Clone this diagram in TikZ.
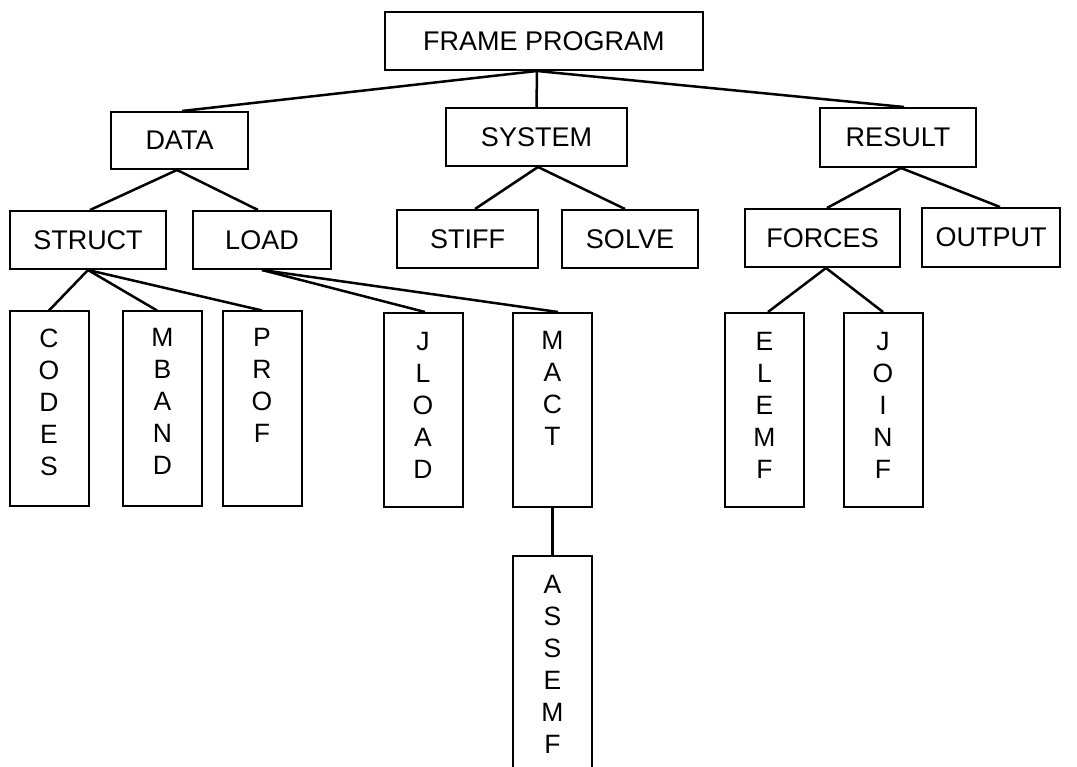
\documentclass[tikz,border=0pt]{standalone}
\usepackage{fontspec}
\setmainfont{Liberation Sans}
\begin{document}
\begin{tikzpicture}[x=1pt,y=-1pt,
  boxline/.style={draw=black, line width=2pt, inner sep=0pt},
  hnode/.style 2 args={boxline, minimum width=#1pt, minimum height=#2pt,
    font=\fontsize{27}{32}\selectfont},
  vnode/.style={boxline, minimum width=79pt, minimum height=194pt},
  vtext/.style={anchor=north, align=center, inner sep=0pt,
    font=\fontsize{26.5}{32}\selectfont},
  link/.style={draw=black, line width=2.5pt}]
\useasboundingbox (0,0) rectangle (1077,767);
\clip (0,0) rectangle (1077,767);

% top level
\node[hnode={318}{58}] (frame) at (544,41) {FRAME PROGRAM};

% second level
\node[hnode={137}{57}] (data)   at (179.5,140.5) {DATA};
\node[hnode={181}{58}] (system) at (536.5,137)   {SYSTEM};
\node[hnode={156}{59}] (result) at (898,137.5)   {RESULT};

% third level
\node[hnode={156}{58}] (struct) at (88,240)    {STRUCT};
\node[hnode={138}{58}] (load)   at (262,240)   {LOAD};
\node[hnode={141}{58}] (stiff)  at (467.5,239) {STIFF};
\node[hnode={136}{58}] (solve)  at (630,239)   {SOLVE};
\node[hnode={155}{58}] (forces) at (822.5,238) {FORCES};
\node[hnode={138}{59}] (output) at (991,237.5) {OUTPUT};

% fourth level: tall boxes with letters stacked top-down
\node[vnode] (codes) at (49,408.5)    {};
\node[vnode] (mband) at (162.5,408.5) {};
\node[vnode] (prof)  at (262,408.5)   {};
\node[vnode] (jload) at (423,410)     {};
\node[vnode] (mact)  at (552.5,410)   {};
\node[vnode] (elemf) at (764.5,410)   {};
\node[vnode] (joinf) at (883,410)     {};
\node[vnode, minimum height=260pt] (assemf) at (552.5,686) {};

\node[vtext] (codesT)  at ([yshift=-18pt]codes.north)  {C\\O\\D\\E\\S};
\node[vtext] (mbandT)  at ([yshift=-18pt]mband.north)  {M\\B\\A\\N\\D};
\node[vtext] (profT)   at ([yshift=-18pt]prof.north)   {P\\R\\O\\F};
\node[vtext] (jloadT)  at ([yshift=-20pt]jload.north)  {J\\L\\O\\A\\D};
\node[vtext] (mactT)   at ([yshift=-19pt]mact.north)   {M\\A\\C\\T};
\node[vtext] (elemfT)  at ([yshift=-20pt]elemf.north)  {E\\L\\E\\M\\F};
\node[vtext] (joinfT)  at ([yshift=-20pt]joinf.north)  {J\\O\\I\\N\\F};
\node[vtext] (assemfT) at ([yshift=-20pt]assemf.north) {A\\S\\S\\E\\M\\F};

% connectors
\draw[link] ([xshift=-7pt]frame.south) -- ([xshift=2.5pt]data.north);
\draw[link] ([xshift=-7pt]frame.south) -- (system.north);
\draw[link] ([xshift=-7pt]frame.south) -- ([xshift=6pt]result.north);

\draw[link] ([xshift=-2.5pt]data.south) -- ([xshift=2pt]struct.north);
\draw[link] ([xshift=-2.5pt]data.south) -- ([xshift=-4pt]load.north);

\draw[link] ([xshift=1.5pt]system.south) -- ([xshift=7.5pt]stiff.north);
\draw[link] ([xshift=1.5pt]system.south) -- ([xshift=-5pt]solve.north);

\draw[link] ([xshift=3pt]result.south) -- ([xshift=4.5pt]forces.north);
\draw[link] ([xshift=3pt]result.south) -- ([xshift=9pt]output.north);

\draw[link] (struct.south) -- (codes.north);
\draw[link] (struct.south) -- ([xshift=-5.5pt]mband.north);
\draw[link] (struct.south) -- (prof.north);

\draw[link] (load.south) -- ([xshift=2pt]jload.north);
\draw[link] (load.south) -- ([xshift=5.5pt]mact.north);

\draw[link] (mact.south) -- (assemf.north);

\draw[link] ([xshift=3.5pt]forces.south) -- ([xshift=3.5pt]elemf.north);
\draw[link] ([xshift=3.5pt]forces.south) -- (joinf.north);
\end{tikzpicture}
\end{document}
